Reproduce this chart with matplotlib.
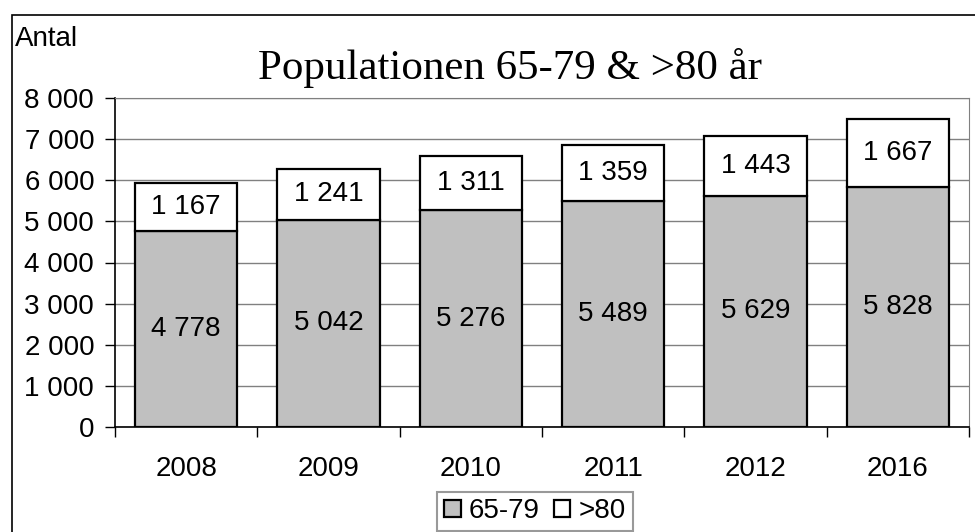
import matplotlib.pyplot as plt
import numpy as np
from matplotlib.patches import Rectangle

years = ['2008', '2009', '2010', '2011', '2012', '2016']
age_65_79 = [4778, 5042, 5276, 5489, 5629, 5828]
age_80 = [1167, 1241, 1311, 1359, 1443, 1667]
yticks = [0, 1000, 2000, 3000, 4000, 5000, 6000, 7000, 8000]

def fmt(v):
    return f'{v:,}'.replace(',', ' ')

plt.rcParams['font.family'] = ['Liberation Sans', 'DejaVu Sans']
fs = 20

fig = plt.figure(figsize=(9.75, 5.32), dpi=100)
W, H = 975, 532
ax = fig.add_axes([115 / W, 1 - 427 / H, (969 - 115) / W, (427 - 98) / H])

x = np.arange(len(years))
ax.bar(x, age_65_79, width=0.72, color='#c0c0c0', edgecolor='black', linewidth=1.6,
       label='65-79', zorder=3)
ax.bar(x, age_80, width=0.72, bottom=age_65_79, color='white', edgecolor='black',
       linewidth=1.6, label='>80', zorder=3)

for i in range(len(years)):
    ax.text(x[i], age_65_79[i] / 2, fmt(age_65_79[i]), ha='center', va='center',
            fontsize=fs, zorder=4)
    ax.text(x[i], age_65_79[i] + age_80[i] / 2, fmt(age_80[i]), ha='center', va='center',
            fontsize=fs, zorder=4)

ax.set_xlim(-0.5, len(years) - 0.5)
ax.set_ylim(0, 8000)
ax.set_yticks(yticks)
ax.set_yticklabels([fmt(v) for v in yticks], fontsize=fs)
ax.set_xticks(x)
ax.set_xticklabels(years, fontsize=fs)
ax.tick_params(axis='x', length=0, pad=21)
ax.set_xticks(np.arange(-0.5, len(years)), minor=True)
ax.tick_params(axis='x', which='minor', length=7, direction='out', width=1)
ax.tick_params(axis='y', length=7, direction='out', width=1, pad=8)
ax.grid(axis='y', color='#808080', linewidth=1, zorder=0)

for s in ['top', 'right']:
    ax.spines[s].set_color('#808080')
for s in ['left', 'bottom']:
    ax.spines[s].set_color('black')
    ax.spines[s].set_linewidth(1.2)

fig.text(510 / W, 1 - 68 / H, 'Populationen 65-79 & >80 år', ha='center', va='center',
         fontsize=31, family=['Liberation Serif', 'DejaVu Serif'])
fig.text(15 / W, 1 - 39 / H, 'Antal', ha='left', va='center', fontsize=fs)

leg = fig.legend(loc='lower center', bbox_to_anchor=(535 / W, -0.025), ncol=2,
                 fontsize=fs, frameon=True, fancybox=False, edgecolor='#808080',
                 handlelength=0.6, handleheight=0.6, handletextpad=0.3,
                 columnspacing=0.5, borderpad=0.25)
leg.get_frame().set_linewidth(1.5)

fig.patches.append(Rectangle((12 / W, -0.1), 1.2, (1 - 15 / H) + 0.1,
                             transform=fig.transFigure, fill=False,
                             edgecolor='black', linewidth=1.2, zorder=-1))

fig.savefig('out.png', dpi=100)
